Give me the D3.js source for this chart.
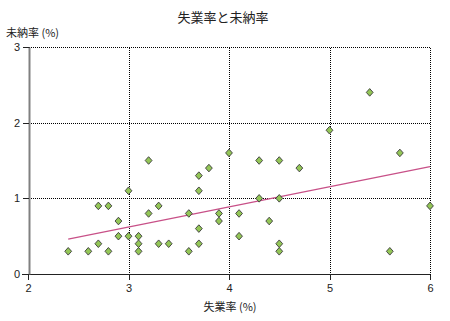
<!DOCTYPE html>
<html>
<head>
<meta charset="utf-8">
<script src="https://cdn.jsdelivr.net/npm/d3@7"></script>
<style>
  body { margin: 0; background: #fff; }
  text { font-family: "Liberation Sans", "Noto Sans CJK JP", sans-serif; fill: #222; }
  .jp { font-family: "Noto Sans CJK JP", sans-serif; }
</style>
</head>
<body>
<div id="chart"></div>
<script>
// unemployment rate (%) vs non-payment rate (%)
const unemp = [2.4, 2.6, 2.7, 2.7, 2.8, 2.8, 2.9, 2.9, 3.0, 3.0, 3.1, 3.1, 3.1, 3.2, 3.2,
  3.3, 3.3, 3.4, 3.6, 3.6, 3.7, 3.7, 3.7, 3.7, 3.8, 3.9, 3.9, 4.0, 4.1, 4.1,
  4.3, 4.3, 4.4, 4.5, 4.5, 4.5, 4.5, 4.7, 5.0, 5.4, 5.6, 5.7, 6.0];
const unpaid = [0.3, 0.3, 0.4, 0.9, 0.3, 0.9, 0.5, 0.7, 0.5, 1.1, 0.3, 0.4, 0.5, 0.8, 1.5,
  0.4, 0.9, 0.4, 0.3, 0.8, 0.4, 0.6, 1.1, 1.3, 1.4, 0.7, 0.8, 1.6, 0.5, 0.8,
  1.0, 1.5, 0.7, 0.3, 0.4, 1.0, 1.5, 1.4, 1.9, 2.4, 0.3, 1.6, 0.9];
const trendX = [2.4, 6.0];
const trendY = [0.46, 1.42];
const xTicks = [2, 3, 4, 5, 6];
const yTicks = [0, 1, 2, 3];

const W = 450, H = 321;
const svg = d3.select("#chart").append("svg")
  .attr("width", W).attr("height", H);

const x = d3.scaleLinear().domain([2, 6]).range([28, 430]);
const y = d3.scaleLinear().domain([0, 3]).range([274, 47]);
// snap to pixel centres for crisp 1px lines
const px = v => Math.round(v) + 0.5;

// grid
svg.append("g").selectAll("line")
  .data(yTicks.filter(d => d > 0))
  .enter().append("line")
  .attr("x1", px(x(2))).attr("x2", px(x(6)))
  .attr("y1", d => px(y(d))).attr("y2", d => px(y(d)))
  .attr("stroke", "#000").attr("stroke-dasharray", "1,1")
  .attr("shape-rendering", "crispEdges");
svg.append("g").selectAll("line")
  .data(xTicks.filter(d => d > 2))
  .enter().append("line")
  .attr("x1", d => px(x(d))).attr("x2", d => px(x(d)))
  .attr("y1", px(y(0))).attr("y2", px(y(3)))
  .attr("stroke", "#000").attr("stroke-dasharray", "1,1")
  .attr("shape-rendering", "crispEdges");

// axes
const xAxis = svg.append("g")
  .attr("transform", `translate(0, ${px(y(0))})`)
  .call(d3.axisBottom(x).tickValues(xTicks).tickSize(5).tickSizeOuter(0).tickFormat(d3.format("d")));
xAxis.select(".domain").attr("stroke", "#222").attr("d", `M${x(2) - 6},0H${x(6)}`)
  .attr("shape-rendering", "crispEdges");
xAxis.selectAll(".tick line").attr("stroke", "#222").attr("shape-rendering", "crispEdges");
xAxis.selectAll("text").attr("font-size", 11).attr("dy", "0.9em").style("fill", "#222");

const yAxis = svg.append("g")
  .attr("transform", `translate(${Math.round(x(2)) + 1}, 0)`)
  .call(d3.axisLeft(y).tickValues(yTicks).tickSize(6).tickSizeOuter(0).tickFormat(d3.format("d")));
yAxis.select(".domain").attr("stroke", "#808080").attr("stroke-width", 2);
yAxis.selectAll(".tick line").attr("stroke", "#222").attr("shape-rendering", "crispEdges");
yAxis.selectAll("text").attr("font-size", 11).attr("x", -9).style("fill", "#222");

// trend line
svg.append("path")
  .datum(d3.zip(trendX, trendY))
  .attr("fill", "none")
  .attr("stroke", "#c85088")
  .attr("stroke-width", 1.2)
  .attr("d", d3.line().x(d => x(d[0])).y(d => y(d[1])));

// points
const diamond = "M0,-3.8L3.4,0L0,3.8L-3.4,0Z";
svg.append("g").selectAll("path")
  .data(d3.zip(unemp, unpaid))
  .enter().append("path")
  .attr("transform", d => `translate(${x(d[0])}, ${y(d[1])})`)
  .attr("d", diamond)
  .attr("fill", "#93c656")
  .attr("stroke", "#3a3a3a")
  .attr("stroke-width", 0.9);

// titles
svg.append("text").attr("class", "jp")
  .attr("x", 223).attr("y", 22)
  .attr("text-anchor", "middle").attr("font-size", 13)
  .text("失業率と未納率");
svg.append("text").attr("class", "jp")
  .attr("x", 6).attr("y", 37)
  .attr("font-size", 11)
  .text("未納率 (%)");
svg.append("text").attr("class", "jp")
  .attr("x", 230).attr("y", 311)
  .attr("text-anchor", "middle").attr("font-size", 11)
  .text("失業率 (%)");
</script>
</body>
</html>
